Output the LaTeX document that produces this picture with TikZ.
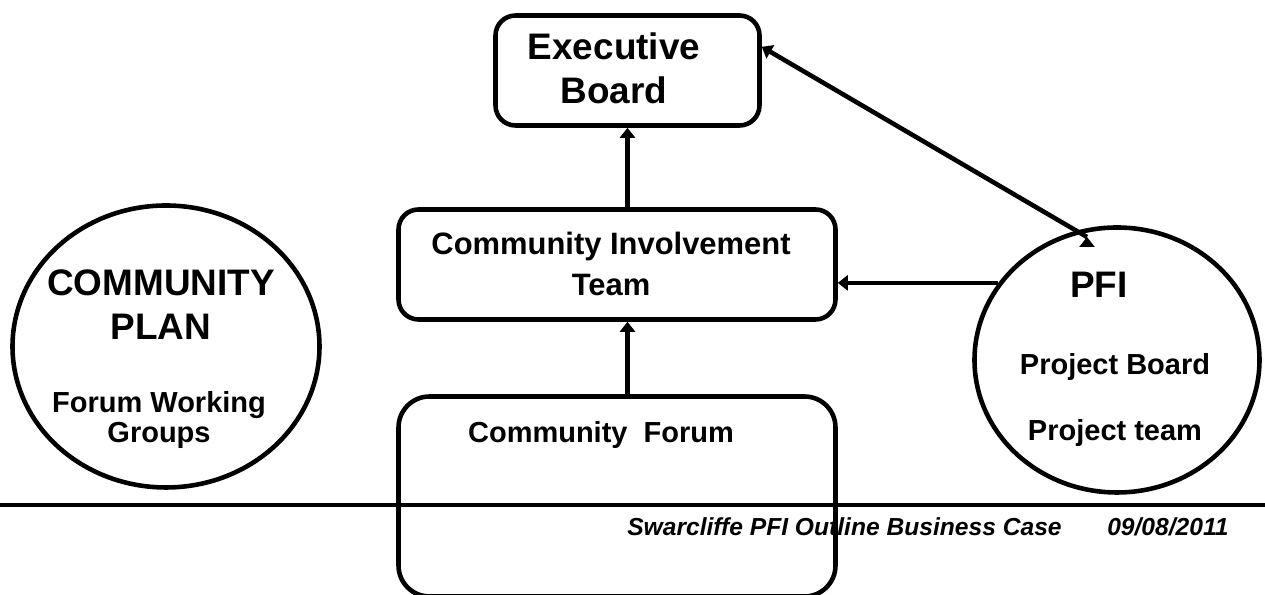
\documentclass[tikz,border=0pt]{standalone}
\usepackage{fontspec}
\setmainfont{Liberation Sans}
\usetikzlibrary{arrows.meta}
\usetikzlibrary{shapes.geometric}
\tikzset{box node/.style={draw,rectangle,rounded corners=0.4cm,inner sep=0pt},
  oval node/.style={draw,ellipse,inner sep=0pt},
  big text/.style={font=\fontsize{21}{25}\selectfont\bfseries,align=center,inner sep=0pt},
  mid text/.style={font=\fontsize{16.5}{19.5}\selectfont\bfseries,align=center,inner sep=0pt},
  foot text/.style={font=\fontsize{14}{16}\selectfont\bfseries\itshape,inner sep=0pt,anchor=west},}

\begin{document}
\begin{tikzpicture}[->,>={Triangle[length=2mm,width=3mm]},line width=2.6pt]
    \useasboundingbox (0,0) rectangle (25.3,11.9);

    % boxes
    \node[box node,minimum width=5.28cm,minimum height=2.2cm] (exec) at (12.55,10.49) {};
    \node[box node,minimum width=8.74cm,minimum height=2.2cm] (cit) at (12.34,6.61) {};
    \node[box node,rounded corners=0.62cm,minimum width=8.74cm,minimum height=4.0cm] (cf) at (12.34,1.97) {};
    \node[oval node,minimum width=6.14cm,minimum height=5.64cm] (plan) at (3.32,4.97) {};
    \node[oval node,minimum width=5.7cm,minimum height=5.3cm] (pfi) at (22.34,4.7) {};
    \coordinate (pfitop) at (21.74,7.16);

    % texts
    \node[big text] (exectext) at (12.28,10.53) {Executive\\Board};
    \node[mid text,font=\fontsize{17.6}{19.5}\selectfont\bfseries] (cittext) at (12.22,6.62) {Community Involvement\\[4.2pt]Team};
    \node[mid text] (cftext) at (12.02,3.2) {Community\ \ Forum};
    \node[big text] (plantitle) at (3.22,5.8) {COMMUNITY\\PLAN};
    \node[mid text] (plansub) at (3.18,3.5) {Forum Working\\[-2.5pt]Groups};
    \node[big text] (pfititle) at (21.98,6.2) {PFI};
    \node[mid text] (pfiboard) at (22.3,4.56) {Project Board};
    \node[mid text] (pfiteam) at (22.3,3.24) {Project team};

    \path[draw]
    (exec |- cf.north) edge (exec |- cit.south)
    (exec |- cit.north) edge (exec.south)
    (pfi.147) edge (pfi.147 -| cit.east)
    (pfitop) edge (exec.10);

    % footer
    \draw[-] (0,1.8) -- (25.3,1.8);
    \node[foot text] (footer) at (12.5,1.36) {Swarcliffe PFI Outline Business Case};
    \node[foot text] (date) at (22.1,1.36) {09/08/2011};
\end{tikzpicture}
\end{document}
